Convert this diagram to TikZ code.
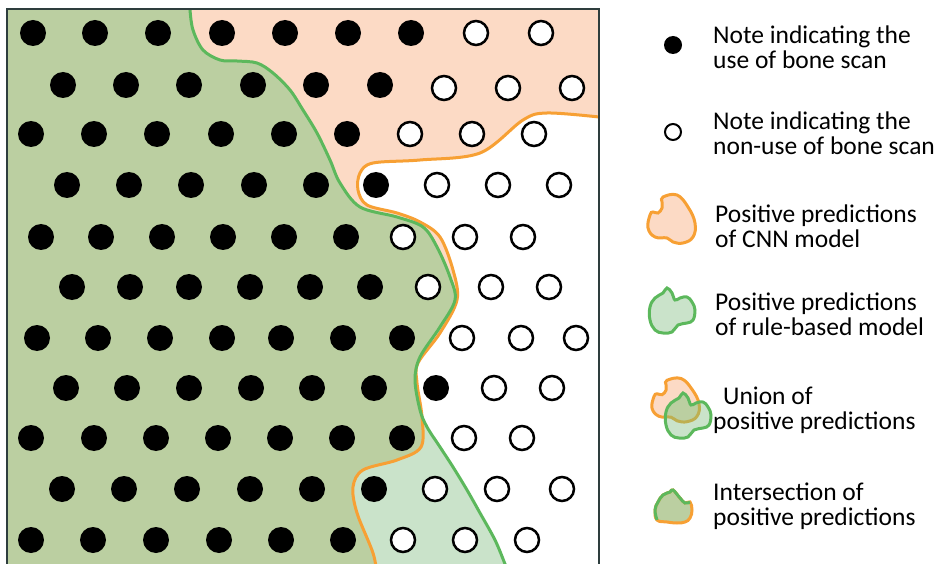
\documentclass[tikz,border=0pt]{standalone}
\usepackage{fontspec}
\setmainfont{Carlito}
\definecolor{peach}{RGB}{252,218,197}
\definecolor{lgreen}{RGB}{202,227,202}
\definecolor{olive}{RGB}{187,207,161}
\definecolor{orangeln}{RGB}{247,160,52}
\definecolor{greenln}{RGB}{92,184,92}
\definecolor{khaki}{RGB}{190,175,80}
\definecolor{framec}{RGB}{46,62,62}
\tikzset{
  fulldot/.style={fill=black},
  emptydot/.style={fill=white, draw=black, line width=2.5pt},
  cnnline/.style={draw=orangeln, line width=3pt},
  ruleline/.style={draw=greenln, line width=3pt},
  legtext/.style={anchor=west, align=left, inner sep=0pt,
    font=\fontsize{25.5}{25}\selectfont},
}
% boundary of the CNN positives (orange) and of the rule-based positives (green)
\def\cnncurve{-- plot[smooth, tension=0.55] coordinates {(599,117) (547,113) (523,120) (480,153)
  (420,160) (373,163) (360,173) (358,190) (367,205) (397,213) (420,222) (440,237) (453,270)
  (457,300) (440,333) (418,363) (417,383) (422,417) (421,447) (397,460) (363,470) (353,487)
  (357,513) (373,553) (377,575)}}
\def\rulecurve{-- plot[smooth, tension=0.55] coordinates {(190,0) (190,10) (193,30) (203,50)
  (220,60) (237,61) (257,63) (273,73) (290,90) (303,110) (317,133) (330,160) (340,183)
  (360,207) (397,217) (423,227) (437,247) (450,277) (455,300) (440,327) (420,357) (415,380)
  (420,410) (427,427) (440,447) (453,467) (467,490) (480,513) (495,540) (505,564) (509,575)}}
% legend blobs
\def\cnnblob{plot[smooth cycle, tension=0.7] coordinates {(-9,-23) (5,-25) (16,-13) (23,3)
  (21,17) (11,23) (1,22) (-5,18) (-17,17) (-24,8) (-22,-5) (-19,-8) (-14,-7) (-10,-12) (-10,-18)}}
\def\ruleblob{plot[smooth cycle, tension=0.7] coordinates {(-5,-22) (0,-17) (3,-10) (8,-12)
  (15,-13) (20,-8) (23,0) (21,10) (15,13) (6,15) (0,22) (-9,23) (-17,20) (-22,10) (-22,-3)
  (-17,-12) (-9,-17)}}
\begin{document}
\begin{tikzpicture}[x=1pt,y=-1pt]
\useasboundingbox (0,0) rectangle (940,564);

% ---- the prediction map ----
\begin{scope}
  \clip (7,9) rectangle (599,575);
  \fill[white] (7,9) rectangle (599,575);
  \fill[peach] (0,0) -- (620,0) -- (620,117) \cnncurve -- (0,580) -- cycle;
  \fill[lgreen] (0,0) \rulecurve -- (0,580) -- cycle;
  \begin{scope}
    \clip (0,0) -- (620,0) -- (620,117) \cnncurve -- (0,580) -- cycle;
    \fill[olive] (0,0) \rulecurve -- (0,580) -- cycle;
  \end{scope}
  \path[cnnline] (620,117) \cnncurve;
  \path[ruleline] (190,0) \rulecurve;

  % filled notes (bone scan used)
  \foreach \y/\xs in {
    33/{33,95,158,222,285,348,411},
    85/{63,126,189,253,316,380},
    134/{31,94,157,221,284,347},
    185/{67,129,191,254,316,376},
    237/{41,101,162,223,284,346},
    287/{72,130,189,250,310,370},
    338/{37,98,160,222,281,343,402},
    388/{66,127,189,251,312,374,436},
    438/{31,94,156,218,280,342,402},
    489/{62,124,187,250,312,374},
    540/{31,93,156,219,281,343}}
    \foreach \x in \xs {\fill[fulldot] (\x,\y) circle[radius=13pt];}
  % open notes (bone scan not used)
  \foreach \y/\xs in {
    33/{476,541},
    88/{444,508,572},
    134/{410,472,534},
    185/{437,498,559},
    237/{403,465,523},
    287/{428,491,549},
    338/{462,521,576},
    388/{494,552},
    438/{464,522},
    489/{435,497,562},
    540/{403,465,527}}
    \foreach \x in \xs {\path[emptydot] (\x,\y) circle[radius=12pt];}
\end{scope}
% frame (open at the bottom)
\draw[framec, line width=2pt] (7,570) -- (7,9) -- (599,9) -- (599,570);

% ---- legend ----
\fill[fulldot] (673,45) circle[radius=9pt];
\node[legtext] (l1) at (713,47) {Note indicating the\\use of bone scan};

\path[emptydot, line width=2pt] (673,132) circle[radius=8pt];
\node[legtext] (l2) at (713,133) {Note indicating the\\non-use of bone scan};

\begin{scope}[shift={(672,220)}]
  \path[fill=peach, draw=orangeln, line width=3pt] \cnnblob;
\end{scope}
\node[legtext] (l3) at (715,226) {Positive predictions\\of CNN model};

\begin{scope}[shift={(672,310)}]
  \path[fill=lgreen, draw=greenln, line width=3pt] \ruleblob;
\end{scope}
\node[legtext] (l4) at (715,314) {Positive predictions\\of rule-based model};

% union: both blobs overlapping
\begin{scope}[shift={(676,401)}, yscale=0.9]
  \path[fill=peach, draw=orangeln, line width=3pt] \cnnblob;
\end{scope}
\begin{scope}[shift={(688,415)}]
  \fill[lgreen] \ruleblob;
  \begin{scope}
    \clip \ruleblob;
    \begin{scope}[shift={(-12,-14)}, yscale=0.9]
      \fill[olive] \cnnblob;
      \draw[khaki, line width=3pt] \cnnblob;
    \end{scope}
  \end{scope}
  \draw[greenln, line width=3pt] \ruleblob;
\end{scope}
\node[legtext] (l5) at (713,410) {\hspace{10pt}Union of\\positive predictions};

% intersection: green upper edge, orange lower edge
\begin{scope}[shift={(673,507)}]
  \path[fill=olive, draw=orangeln, line width=3pt]
    plot[smooth cycle, tension=0.7] coordinates {(0,-17) (7,-9) (12,-4) (17,-5) (19,3)
      (17,11) (12,15) (4,16) (-6,15) (-16,13) (-18,3) (-15,-5) (-10,-12) (-3,-15)};
  \draw[greenln, line width=3pt]
    plot[smooth, tension=0.7] coordinates {(-16,13) (-18,3) (-15,-5) (-10,-12) (-3,-15)
      (0,-17) (7,-9) (12,-4) (17,-5)};
\end{scope}
\node[legtext] (l6) at (713,506) {Intersection of\\positive predictions};
\end{tikzpicture}
\end{document}
